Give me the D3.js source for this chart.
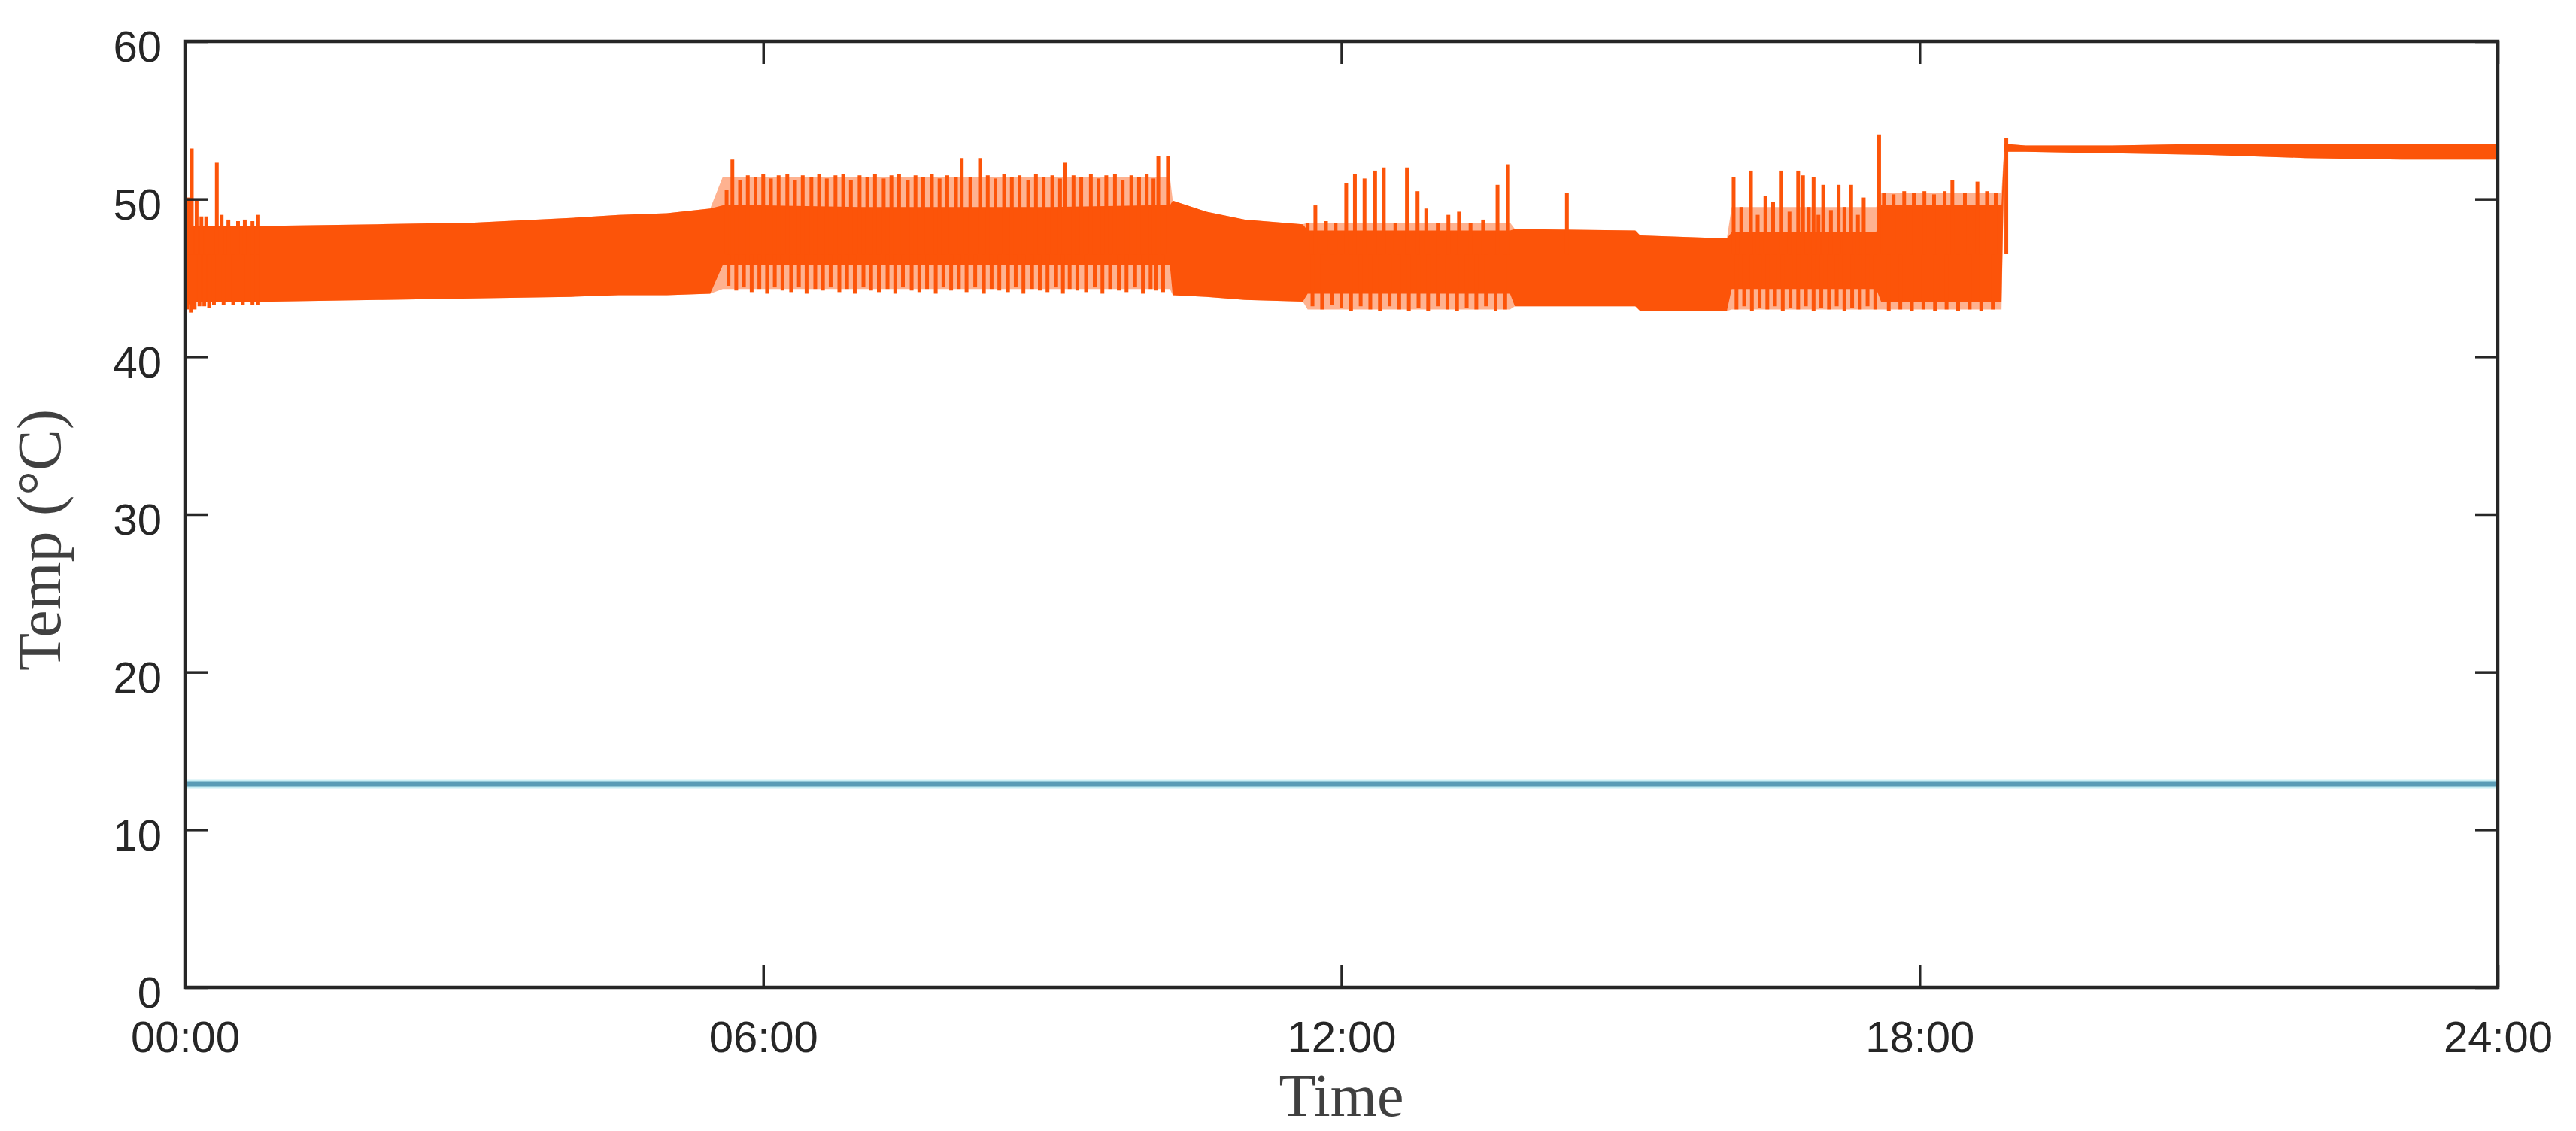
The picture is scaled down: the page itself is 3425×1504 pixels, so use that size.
<!DOCTYPE html>
<html>
<head>
<meta charset="utf-8">
<script src="https://cdn.jsdelivr.net/npm/d3@7"></script>
<style>
  body { margin: 0; background: #fff; }
  svg { display: block; }
</style>
</head>
<body>
<script>
// canvas and plot box
var width = 3425, height = 1504;
var margin = { left: 246, top: 55, right: 104, bottom: 191 };
var plot_w = width - margin.left - margin.right;
var plot_h = height - margin.top - margin.bottom;

// axis ticks
var xTickHours = [0, 6, 12, 18, 24];
var xTickLabels = ["00:00", "06:00", "12:00", "18:00", "24:00"];
var yTicks = [0, 10, 20, 30, 40, 50, 60];

// orange trace envelope (hours, °C)
var bandTimes = [0, 0.1, 0.9, 2, 3, 4, 4.5, 5, 5.45, 5.58, 6, 7, 8, 9, 10, 10.22, 10.25, 10.6, 11.0, 11.6, 11.65, 12.5, 13.75, 13.8, 15.05, 15.1, 16.0, 16.05, 17.55, 17.6, 18.85, 18.88, 19.1, 20, 21, 22, 23, 24];
// solid part
var coreHigh = [48.3, 48.3, 48.3, 48.4, 48.5, 48.8, 49.0, 49.1, 49.4, 49.6, 49.6, 49.5, 49.5, 49.5, 49.6, 49.6, 49.9, 49.2, 48.7, 48.4, 48.0, 48.0, 48.0, 48.1, 48.0, 47.7, 47.5, 47.9, 47.9, 49.6, 49.6, 53.5, 53.4, 53.4, 53.5, 53.5, 53.5, 53.5];
var coreLow = [43.2, 43.5, 43.5, 43.6, 43.7, 43.8, 43.9, 43.9, 44.0, 45.8, 45.8, 45.8, 45.8, 45.8, 45.8, 45.8, 43.9, 43.8, 43.6, 43.5, 44.0, 44.0, 44.0, 43.2, 43.2, 42.9, 42.9, 44.3, 44.3, 43.5, 43.5, 53.0, 53.0, 52.9, 52.8, 52.6, 52.5, 52.5];
// outer reach of the fast oscillation
var outerHigh = [48.3, 48.3, 48.3, 48.4, 48.5, 48.8, 49.0, 49.1, 49.4, 51.4, 51.4, 51.4, 51.4, 51.4, 51.4, 51.4, 49.9, 49.2, 48.7, 48.4, 48.5, 48.5, 48.5, 48.1, 48.0, 47.7, 47.5, 49.5, 49.5, 50.4, 50.4, 53.5, 53.4, 53.4, 53.5, 53.5, 53.5, 53.5];
var outerLow = [43.2, 43.5, 43.5, 43.6, 43.7, 43.8, 43.9, 43.9, 44.0, 44.3, 44.3, 44.3, 44.3, 44.3, 44.3, 44.3, 43.9, 43.8, 43.6, 43.5, 43.0, 43.0, 43.0, 43.2, 43.2, 42.9, 42.9, 43.0, 43.0, 43.0, 43.0, 53.0, 53.0, 52.9, 52.8, 52.6, 52.5, 52.5];

// upward spikes of the orange trace
var spikeUpTimes = [
  0.03, 0.07, 0.12, 0.17, 0.22, 0.33, 0.38, 0.45, 0.55, 0.62, 0.70, 0.76,
  5.62, 5.68, 5.76, 5.84, 5.92, 6.00, 6.08, 6.16, 6.25, 6.33, 6.41, 6.50, 6.58, 6.66, 6.75, 6.83, 6.91, 7.00, 7.08, 7.16, 7.25, 7.33, 7.41, 7.50, 7.58, 7.66, 7.75, 7.83, 7.91, 8.00, 8.06, 8.15, 8.25, 8.33, 8.41, 8.50, 8.58, 8.66, 8.75, 8.83, 8.91, 9.00, 9.08, 9.13, 9.22, 9.30, 9.40, 9.48, 9.56, 9.65, 9.73, 9.82, 9.90, 9.98, 10.05, 10.10, 10.20,
  11.65, 11.73, 11.84, 11.94, 12.05, 12.14, 12.24, 12.35, 12.44, 12.56, 12.68, 12.79, 12.88, 13.00, 13.11, 13.22, 13.34, 13.47, 13.62, 13.73,
  14.34,
  16.07, 16.15, 16.25, 16.32, 16.40, 16.48, 16.56, 16.65, 16.74, 16.79, 16.85, 16.90, 16.95, 17.00, 17.08, 17.16, 17.22, 17.29, 17.36, 17.42, 17.58,
  17.63, 17.73, 17.84, 17.94, 18.05, 18.15, 18.26, 18.34, 18.47, 18.60, 18.70, 18.79,
  18.90
];
var spikeUpTemps = [
  50.1, 53.2, 49.9, 48.9, 48.9, 52.3, 49.0, 48.7, 48.6, 48.7, 48.6, 49.0,
  50.6, 52.5, 51.2, 51.5, 51.4, 51.6, 51.3, 51.5, 51.6, 51.2, 51.5, 51.4, 51.6, 51.3, 51.5, 51.6, 51.2, 51.5, 51.4, 51.6, 51.3, 51.5, 51.6, 51.2, 51.5, 51.4, 51.6, 51.3, 51.5, 51.4, 52.6, 51.4, 52.6, 51.5, 51.3, 51.6, 51.4, 51.5, 51.2, 51.6, 51.4, 51.5, 51.3, 52.3, 51.5, 51.4, 51.6, 51.3, 51.5, 51.6, 51.2, 51.5, 51.4, 51.6, 51.3, 52.7, 52.7,
  48.5, 49.6, 48.6, 48.5, 51.0, 51.6, 51.3, 51.8, 52.0, 48.5, 52.0, 50.5, 49.4, 48.5, 49.0, 49.2, 48.5, 48.7, 50.9, 52.2,
  50.4,
  51.4, 49.5, 51.8, 49.0, 50.2, 49.8, 51.8, 49.2, 51.8, 51.5, 49.5, 51.4, 49.0, 50.9, 49.3, 50.9, 49.5, 50.9, 49.0, 50.1, 54.1,
  50.4, 50.3, 50.5, 50.4, 50.5, 50.3, 50.5, 51.2, 50.4, 51.1, 50.5, 50.4,
  53.9
];

// downward spikes of the orange trace
var spikeDownTimes = [
  0.02, 0.06, 0.10, 0.15, 0.20, 0.25, 0.30, 0.40, 0.50, 0.60, 0.70, 0.76,
  5.64, 5.72, 5.80, 5.88, 5.96, 6.04, 6.12, 6.20, 6.29, 6.37, 6.45, 6.54, 6.62, 6.70, 6.79, 6.87, 6.95, 7.04, 7.12, 7.20, 7.29, 7.37, 7.45, 7.54, 7.62, 7.70, 7.79, 7.87, 7.95, 8.03, 8.11, 8.20, 8.29, 8.37, 8.45, 8.54, 8.62, 8.70, 8.79, 8.87, 8.95, 9.04, 9.11, 9.18, 9.26, 9.35, 9.44, 9.52, 9.60, 9.69, 9.77, 9.86, 9.94, 10.02, 10.08, 10.15,
  11.70, 11.80, 11.90, 12.00, 12.10, 12.20, 12.30, 12.40, 12.50, 12.60, 12.70, 12.80, 12.90, 13.00, 13.10, 13.20, 13.30, 13.40, 13.50, 13.60, 13.70,
  16.10, 16.18, 16.26, 16.34, 16.42, 16.50, 16.58, 16.66, 16.74, 16.82, 16.90, 16.98, 17.06, 17.14, 17.22, 17.30, 17.38, 17.46, 17.54,
  17.68, 17.80, 17.92, 18.04, 18.16, 18.28, 18.40, 18.52, 18.64, 18.76
];
var spikeDownTemps = [
  43.0, 42.8, 43.0, 43.2, 43.2, 43.1, 43.3, 43.3, 43.3, 43.3, 43.3, 43.3,
  44.5, 44.2, 44.4, 44.1, 44.3, 44.0, 44.4, 44.2, 44.1, 44.4, 44.0, 44.3, 44.2, 44.4, 44.1, 44.3, 44.0, 44.4, 44.2, 44.1, 44.3, 44.0, 44.4, 44.2, 44.1, 44.3, 44.0, 44.4, 44.2, 44.3, 44.1, 44.4, 44.0, 44.3, 44.2, 44.1, 44.4, 44.0, 44.3, 44.2, 44.1, 44.4, 44.0, 44.3, 44.2, 44.1, 44.4, 44.0, 44.3, 44.2, 44.1, 44.4, 44.0, 44.3, 44.2, 44.1,
  43.2, 43.0, 43.3, 43.1, 42.9, 43.2, 43.0, 42.9, 43.2, 43.0, 42.9, 43.1, 42.9, 43.2, 43.0, 42.9, 43.1, 43.0, 43.2, 42.9, 43.0,
  43.0, 43.2, 42.9, 43.1, 43.0, 43.2, 42.9, 43.1, 43.0, 43.2, 42.9, 43.1, 43.0, 43.2, 42.9, 43.1, 43.0, 43.2, 43.0,
  42.9, 43.0, 42.9, 43.0, 42.9, 43.0, 42.9, 43.0, 42.9, 43.0
];

// blue trace: flat line
var blueTimes = [0, 24];
var blueTemps = [12.9, 12.9];

var orange = '#fc5409', blue = '#5a9cb6', ink = '#262626';
var spikeBase = 46.5; // spikes start inside the solid core

var svg = d3.select('body').append('svg').attr('width', width).attr('height', height);
var g = svg.append('g').attr('transform', 'translate(' + margin.left + ',' + margin.top + ')');

var x = d3.scaleLinear().domain([0, 24]).range([0, plot_w]);
var y = d3.scaleLinear().domain([0, 60]).range([plot_h, 0]);

g.append('clipPath').attr('id', 'clip').append('rect').attr('width', plot_w).attr('height', plot_h);
var plot = g.append('g').attr('clip-path', 'url(#clip)');

// blue line with a soft halo
var blueLine = d3.line().x(i => x(blueTimes[i])).y(i => y(blueTemps[i]));
plot.append('path').datum(d3.range(blueTimes.length)).attr('d', blueLine)
	.attr('fill', 'none').attr('stroke', '#c9eef4').attr('stroke-width', 12);
plot.append('path').datum(d3.range(blueTimes.length)).attr('d', blueLine)
	.attr('fill', 'none').attr('stroke', blue).attr('stroke-width', 6);

// orange: faint outer reach, then solid core
var idx = d3.range(bandTimes.length);
plot.append('path').datum(idx)
	.attr('d', d3.area().x(i => x(bandTimes[i])).y0(i => y(outerLow[i])).y1(i => y(outerHigh[i])))
	.attr('fill', orange).attr('fill-opacity', 0.45);
plot.append('path').datum(idx)
	.attr('d', d3.area().x(i => x(bandTimes[i])).y0(i => y(coreLow[i])).y1(i => y(coreHigh[i])))
	.attr('fill', orange);

// spikes
plot.selectAll('.up').data(d3.range(spikeUpTimes.length)).enter()
	.append('line').attr('class', 'up')
	.attr('x1', i => x(spikeUpTimes[i])).attr('x2', i => x(spikeUpTimes[i]))
	.attr('y1', y(spikeBase)).attr('y2', i => y(spikeUpTemps[i]))
	.attr('stroke', orange).attr('stroke-width', 5);
plot.selectAll('.down').data(d3.range(spikeDownTimes.length)).enter()
	.append('line').attr('class', 'down')
	.attr('x1', i => x(spikeDownTimes[i])).attr('x2', i => x(spikeDownTimes[i]))
	.attr('y1', y(spikeBase)).attr('y2', i => y(spikeDownTemps[i]))
	.attr('stroke', orange).attr('stroke-width', 5);

// axes, ticks pointing inward on all four sides
var tickLen = 30;
var xb = g.append('g').attr('transform', 'translate(0,' + plot_h + ')')
	.call(d3.axisBottom(x).tickValues(xTickHours).tickFormat((d, i) => xTickLabels[i])
		.tickSizeInner(-tickLen).tickSizeOuter(0).tickPadding(45));
var xt = g.append('g')
	.call(d3.axisTop(x).tickValues(xTickHours).tickFormat('').tickSizeInner(-tickLen).tickSizeOuter(0));
var yl = g.append('g')
	.call(d3.axisLeft(y).tickValues(yTicks).tickFormat(d3.format('d'))
		.tickSizeInner(-tickLen).tickSizeOuter(0).tickPadding(31));
var yr = g.append('g').attr('transform', 'translate(' + plot_w + ',0)')
	.call(d3.axisRight(y).tickValues(yTicks).tickFormat('').tickSizeInner(-tickLen).tickSizeOuter(0));

[xb, xt, yl, yr].forEach(a => {
	a.select('.domain').remove();
	a.selectAll('.tick line').attr('stroke', ink).attr('stroke-width', 3.5);
	a.selectAll('.tick text').attr('fill', ink)
		.style('font-family', '"Liberation Sans", Arial, sans-serif').style('font-size', '58px');
});
yl.selectAll('.tick text').attr('dy', '0.46em');

// box
g.append('rect').attr('width', plot_w).attr('height', plot_h)
	.attr('fill', 'none').attr('stroke', ink).attr('stroke-width', 4.5);

// axis titles
svg.append('text')
	.attr('x', margin.left + plot_w / 2).attr('y', 1484)
	.attr('text-anchor', 'middle')
	.style('font-family', '"Liberation Serif", "Times New Roman", serif').style('font-size', '80px')
	.attr('fill', '#404040').text('Time');
svg.append('text')
	.attr('transform', 'translate(80,718) rotate(-90)')
	.attr('text-anchor', 'middle')
	.style('font-family', '"Liberation Serif", "Times New Roman", serif').style('font-size', '82px')
	.attr('fill', '#404040').text('Temp (°C)');
</script>
</body>
</html>
